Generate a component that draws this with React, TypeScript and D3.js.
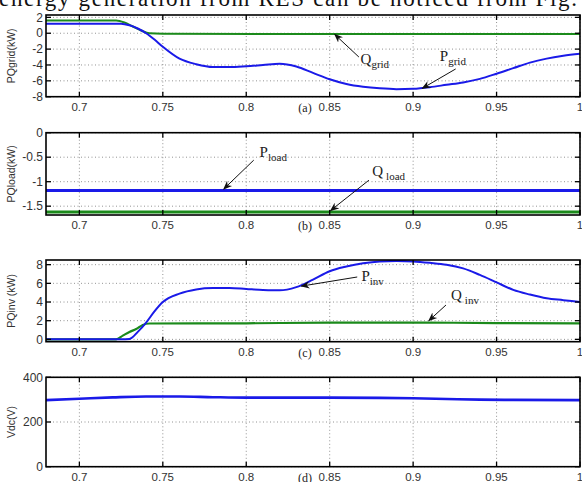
import React from "react";
import * as d3 from "d3";

// time axis shared by all four panels
const xTicks = [0.7, 0.75, 0.8, 0.85, 0.9, 0.95, 1];

// (a) grid power
const tPGrid = [0.68, 0.72, 0.725, 0.73, 0.735, 0.74, 0.745, 0.75, 0.76, 0.77, 0.78, 0.79, 0.8, 0.81, 0.82, 0.83, 0.84, 0.85, 0.86, 0.87, 0.88, 0.89, 0.9, 0.91, 0.92, 0.93, 0.94, 0.95, 0.96, 0.97, 0.98, 0.99, 1.0];
const pGrid = [1.2, 1.2, 1.2, 1.0, 0.6, 0.0, -0.8, -1.7, -3.2, -3.9, -4.25, -4.25, -4.15, -4.0, -3.85, -4.2, -5.0, -5.8, -6.4, -6.75, -6.95, -7.05, -7.0, -6.8, -6.5, -6.2, -5.75, -5.1, -4.4, -3.7, -3.2, -2.85, -2.6];
const tQGrid = [0.68, 0.722, 0.727, 0.732, 0.737, 0.742, 0.75, 0.84, 0.95, 1.0];
const qGrid = [1.6, 1.6, 1.35, 0.85, 0.35, 0.0, -0.05, -0.1, -0.1, -0.08];

// (b) load power
const tLoad = [0.68, 1.0];
const pLoad = [-1.18, -1.18];
const qLoad = [-1.62, -1.62];

// (c) inverter power
const tPInv = [0.68, 0.72, 0.725, 0.73, 0.735, 0.74, 0.745, 0.75, 0.76, 0.77, 0.78, 0.79, 0.8, 0.81, 0.82, 0.83, 0.84, 0.85, 0.86, 0.87, 0.88, 0.89, 0.9, 0.91, 0.92, 0.93, 0.94, 0.95, 0.96, 0.97, 0.98, 0.99, 1.0];
const pInv = [0, 0, 0, 0.05, 0.8, 1.8, 3.0, 4.0, 4.9, 5.35, 5.5, 5.5, 5.4, 5.3, 5.25, 5.6, 6.4, 7.3, 7.8, 8.15, 8.35, 8.4, 8.35, 8.2, 8.0, 7.6, 6.9, 6.1, 5.3, 4.8, 4.4, 4.2, 4.0];
const tQInv = [0.68, 0.722, 0.726, 0.73, 0.734, 0.738, 0.742, 0.8, 0.85, 0.9, 0.95, 1.0];
const qInv = [0, 0, 0.4, 0.8, 1.1, 1.55, 1.7, 1.72, 1.8, 1.8, 1.75, 1.72];

// (d) dc link voltage
const tVdc = [0.68, 0.7, 0.72, 0.74, 0.76, 0.78, 0.8, 0.85, 0.88, 0.9, 0.92, 0.94, 0.96, 1.0];
const vdc = [298, 304, 310, 314, 314, 311, 309, 309, 308, 306, 303, 300, 299, 298];

const BLUE = "#1a1ae8";
const GREEN = "#1b8a1b";
const X0 = 46;
const X1 = 580;

const x = d3.scaleLinear().domain([0.68, 1]).range([X0, X1]);

type Series = { t: number[]; v: number[]; color: string; width: number };
type Note = { main: string; sub: string; gap?: number; at: [number, number]; from: [number, number]; to: [number, number] };

function Panel(props: {
  top: number;
  bottom: number;
  domain: [number, number];
  ticks: number[];
  ylabel: string;
  tag: string;
  series: Series[];
  notes: Note[];
}) {
  const { top, bottom, domain, ticks, ylabel, tag, series, notes } = props;
  const y = d3.scaleLinear().domain(domain).range([bottom, top]);
  const line = d3
    .line<[number, number]>()
    .x((d) => x(d[0]))
    .y((d) => y(d[1]))
    .curve(d3.curveMonotoneX);
  const clipId = "clip" + Math.round(top);

  return (
    <g>
      <clipPath id={clipId}>
        <rect x={X0} y={top} width={X1 - X0} height={bottom - top} />
      </clipPath>
      {/* grid */}
      {xTicks.map((t) => (
        <line key={"gx" + t} x1={x(t)} x2={x(t)} y1={top} y2={bottom} stroke="#777" strokeWidth={0.8} strokeDasharray="1,2.5" />
      ))}
      {ticks.map((v) => (
        <line key={"gy" + v} x1={X0} x2={X1} y1={y(v)} y2={y(v)} stroke="#777" strokeWidth={0.8} strokeDasharray="1,2.5" />
      ))}
      {/* data */}
      <g clipPath={`url(#${clipId})`}>
        {series.map((s, i) => (
          <path
            key={i}
            d={line(s.t.map((t, j) => [t, s.v[j]]) as [number, number][]) || ""}
            fill="none"
            stroke={s.color}
            strokeWidth={s.width}
          />
        ))}
      </g>
      {/* tick marks */}
      {xTicks.map((t) => (
        <g key={"tx" + t}>
          <line x1={x(t)} x2={x(t)} y1={bottom} y2={bottom - 5} stroke="#000" strokeWidth={1.3} />
          <line x1={x(t)} x2={x(t)} y1={top} y2={top + 5} stroke="#000" strokeWidth={1.3} />
          <text x={x(t)} y={bottom + 14} textAnchor="middle" fontSize={11.5} fill="#333" fontFamily="Liberation Sans, Arial, sans-serif">
            {String(t)}
          </text>
        </g>
      ))}
      {ticks.map((v) => (
        <g key={"ty" + v}>
          <line x1={X0} x2={X0 + 5} y1={y(v)} y2={y(v)} stroke="#000" strokeWidth={1.3} />
          <line x1={X1} x2={X1 - 5} y1={y(v)} y2={y(v)} stroke="#000" strokeWidth={1.3} />
          <text x={X0 - 3} y={y(v)} dy="0.35em" textAnchor="end" fontSize={12} fill="#333" fontFamily="Liberation Sans, Arial, sans-serif">
            {String(v)}
          </text>
        </g>
      ))}
      <rect x={X0} y={top} width={X1 - X0} height={bottom - top} fill="none" stroke="#000" strokeWidth={1.6} />
      <text
        transform={`translate(15,${(top + bottom) / 2}) rotate(-90)`}
        textAnchor="middle"
        fontSize={10.5}
        fill="#333"
        fontFamily="Liberation Sans, Arial, sans-serif"
      >
        {ylabel}
      </text>
      <text x={305} y={bottom + 15} textAnchor="middle" fontSize={12} fill="#222" fontFamily="Liberation Serif, Times New Roman, serif">
        {tag}
      </text>
      {notes.map((n, i) => (
        <g key={"n" + i}>
          <line
            x1={x(n.from[0])}
            y1={y(n.from[1])}
            x2={x(n.to[0])}
            y2={y(n.to[1])}
            stroke="#111"
            strokeWidth={1}
            markerEnd="url(#arrowhead)"
          />
          <text x={x(n.at[0])} y={y(n.at[1])} fontSize={15} fill="#222" fontFamily="Liberation Serif, Times New Roman, serif">
            {n.main}
            <tspan dx={n.gap || 0} dy={4} fontSize={11}>
              {n.sub}
            </tspan>
          </text>
        </g>
      ))}
    </g>
  );
}

export default function App() {
  return (
    <svg
      width={582}
      height={482}
      style={{ position: "absolute", left: 0, top: 0, background: "#fff" }}
    >
      <defs>
        <marker id="arrowhead" viewBox="0 0 10 10" refX={9} refY={5} markerWidth={9} markerHeight={9} orient="auto" markerUnits="userSpaceOnUse">
          <path d="M0,1 L10,5 L0,9 L3,5 Z" fill="#111" />
        </marker>
      </defs>
      <text x={-1} y={6} fontSize={23} textLength={578} fill="#111" fontFamily="Liberation Serif, Times New Roman, serif">
        energy generation from RES can be noticed from Fig.
      </text>
      <Panel
        top={15}
        bottom={96.7}
        domain={[-8, 2.3]}
        ticks={[2, 0, -2, -4, -6, -8]}
        ylabel="PQgrid(kW)"
        tag="(a)"
        series={[
          { t: tQGrid, v: qGrid, color: GREEN, width: 2 },
          { t: tPGrid, v: pGrid, color: BLUE, width: 2 },
        ]}
        notes={[
          { main: "Q", sub: "grid", at: [0.8685, -3.9], from: [0.8675, -3.0], to: [0.853, -0.15] },
          { main: "P", sub: "grid", at: [0.916, -3.55], from: [0.9255, -4.5], to: [0.9055, -6.95] },
        ]}
      />
      <Panel
        top={132.7}
        bottom={215}
        domain={[-1.68, 0]}
        ticks={[0, -0.5, -1, -1.5]}
        ylabel="PQload(kW)"
        tag="(b)"
        series={[
          { t: tLoad, v: qLoad, color: GREEN, width: 3 },
          { t: tLoad, v: pLoad, color: BLUE, width: 3 },
        ]}
        notes={[
          { main: "P", sub: "load", at: [0.808, -0.5], from: [0.8045, -0.56], to: [0.7865, -1.15] },
          { main: "Q", sub: "load", gap: 3, at: [0.8755, -0.88], from: [0.8735, -0.97], to: [0.8505, -1.59] },
        ]}
      />
      <Panel
        top={260}
        bottom={341.7}
        domain={[-0.25, 8.5]}
        ticks={[8, 6, 4, 2, 0]}
        ylabel="PQinv (kW)"
        tag="(c)"
        series={[
          { t: tQInv, v: qInv, color: GREEN, width: 2.2 },
          { t: tPInv, v: pInv, color: BLUE, width: 2 },
        ]}
        notes={[
          { main: "P", sub: "inv", at: [0.869, 6.25], from: [0.8665, 6.68], to: [0.833, 5.7] },
          { main: "Q", sub: "inv", gap: 3, at: [0.9227, 4.22], from: [0.9197, 3.68], to: [0.9094, 2.0] },
        ]}
      />
      <Panel
        top={377.3}
        bottom={466.7}
        domain={[0, 400]}
        ticks={[400, 200, 0]}
        ylabel="Vdc(V)"
        tag="(d)"
        series={[{ t: tVdc, v: vdc, color: BLUE, width: 2.6 }]}
        notes={[]}
      />
    </svg>
  );
}
